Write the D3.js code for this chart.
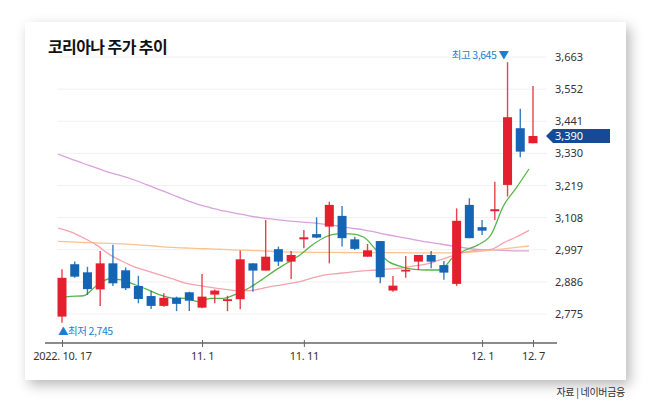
<!doctype html>
<html>
  <head>
    <meta charset="utf-8">
    <title>코리아나 주가 추이</title>
    <script src="https://cdn.jsdelivr.net/npm/d3@7"></script>
    <style>
      html, body { margin:0; padding:0; background:#fff; overflow:hidden }
      #card { position:absolute; left:25px; top:22px; width:601px; height:358px; background:#fff;
              box-shadow: 4px 5px 12px rgba(0,0,0,0.28); }
      svg { position:absolute; top:0; left:0; font-family:"Noto Sans CJK KR", "Noto Sans", sans-serif }
    </style>
  </head>
  <body>
    <div id="card"></div>
    <div id="chart"></div>
    <script>
      // trading days, 2022.10.17 ~ 12.7
      var dates = ["10.17","10.18","10.19","10.20","10.21","10.24","10.25","10.26","10.27","10.28","10.31",
                   "11.1","11.2","11.3","11.4","11.7","11.8","11.9","11.10","11.11",
                   "11.14","11.15","11.16","11.17","11.18","11.21","11.22","11.23","11.24","11.25",
                   "11.28","11.29","11.30","12.1","12.2","12.5","12.6","12.7"];

      var open  = [2766,2947,2919,2860,2950,2926,2872,2837,2803,2831,2850,2797,2842,2821,2826,2950,2925,2999,2956,
                   3033,3051,3077,3114,3033,2973,3027,2856,2924,2956,2979,2944,2879,3152,3075,3130,3221,3417,3365];
      var high  = [2930,2956,2938,2993,3014,2936,2907,2855,2847,2835,2852,2913,2860,2838,2994,2950,3100,3008,2993,
                   3065,3109,3163,3148,3042,3017,3027,2906,2975,2979,2993,2958,3140,3175,3100,3232,3645,3484,3563];
      var low   = [2745,2900,2841,2803,2872,2858,2812,2792,2800,2785,2785,2795,2812,2785,2791,2852,2925,2941,2896,
                   3002,3037,2950,3008,2996,2973,2881,2852,2900,2927,2933,2893,2872,3037,3048,3100,3181,3317,3365];
      var close = [2900,2904,2861,2950,2881,2864,2827,2803,2831,2810,2821,2835,2856,2826,2964,2925,2973,2956,2979,
                   3040,3039,3152,3037,3000,2995,2902,2873,2928,2979,2956,2918,3097,3037,3063,3137,3455,3336,3390];

      // moving averages
      var ma5   = [2832,2836,2838,2872,2896,2893,2877,2860,2841,2830,2829,2818,2829,2829,2844,2865,2893,2924,2951,
                   2979,3014,3041,3052,3052,3041,2996,2955,2938,2929,2927,2927,2969,2996,3014,3048,3149,3211,3276];
      var ma20  = [3072,3059,3038,3014,2982,2958,2938,2924,2910,2896,2882,2874,2867,2861,2856,2856,2863,2872,2879,
                   2887,2900,2910,2915,2920,2924,2927,2931,2934,2941,2948,2962,2976,2989,2996,2998,3021,3041,3064];
      var ma60  = [3026,3024,3022,3021,3019,3017,3015,3012,3008,3005,3003,3001,3000,2998,2996,2995,2993,2991,2989,
                   2989,2988,2988,2988,2987,2987,2987,2987,2987,2986,2986,2986,2986,2988,2991,2995,3000,3005,3010];
      var ma120 = [3327,3311,3295,3280,3264,3252,3238,3221,3204,3187,3169,3154,3142,3131,3123,3114,3107,3102,3097,
                   3093,3090,3085,3079,3072,3066,3057,3048,3040,3031,3024,3017,3010,3003,2998,2996,2995,2993,2993];

      var yTicks = [2775,2886,2997,3108,3219,3330,3441,3552,3663];
      var xTicks = ["10.17","11.1","11.11","12.1","12.7"];
      var xTickLabels = ["2022. 10. 17","11. 1","11. 11","12. 1","12. 7"];

      var RED = "#e5202e", BLUE = "#1565b5";

      var svg = d3.select("#chart").append("svg")
        .attr("width", 650).attr("height", 404);

      var x = d3.scalePoint().domain(dates).range([62, 533]);
      var y = d3.scaleLinear().domain([2775, 3663]).range([314, 57]);

      // title
      svg.append("text").attr("x", 48).attr("y", 53)
        .attr("font-size", 16).attr("font-weight", 700).attr("fill", "#111")
        .attr("letter-spacing", -0.6)
        .text("코리아나 주가 추이");

      // grid
      svg.append("g").selectAll("line").data(yTicks).join("line")
        .attr("x1", 57).attr("x2", 547)
        .attr("y1", d => y(d)).attr("y2", d => y(d))
        .attr("stroke", "#f1f1f1").attr("stroke-width", 1);

      // y axis labels (right)
      var yAxis = d3.axisRight(y).tickValues(yTicks).tickSize(0).tickPadding(0)
        .tickFormat(d3.format(","));
      svg.append("g").attr("transform", "translate(555,0)").call(yAxis)
        .call(g => g.select(".domain").remove())
        .selectAll("text").attr("font-size", 11).attr("fill", "#333")
        .attr("font-family", "'Noto Sans', sans-serif");

      // x axis
      var xAxis = d3.axisBottom(x).tickValues(xTicks).tickSize(4).tickPadding(5)
        .tickFormat((d, i) => xTickLabels[i]);
      var gx = svg.append("g").attr("transform", "translate(0,343)").call(xAxis);
      gx.select(".domain").attr("d", "M45,0H557").attr("stroke", "#666").attr("stroke-width", 1.5);
      gx.selectAll(".tick line").attr("y1", -3).attr("y2", 4).attr("stroke", "#666");
      gx.selectAll("text").attr("font-size", 11).attr("fill", "#333")
        .attr("font-family", "'Noto Sans', sans-serif").attr("letter-spacing", -0.3);

      // moving average lines
      var lines = [[ma120, "#d9a2dc"], [ma60, "#f9c38f"], [ma20, "#f4a3ae"], [ma5, "#55b548"]];
      lines.forEach(function(l) {
        var line = d3.line().x((d, i) => x(dates[i]) - 4).y(d => y(d)).curve(d3.curveMonotoneX);
        svg.append("path").attr("d", line(l[0]))
          .attr("fill", "none").attr("stroke", l[1]).attr("stroke-width", 1.3);
      });

      // candles
      var candles = dates.map((d, i) => ({d: d, o: open[i], h: high[i], l: low[i], c: close[i]}));
      var bw = 9;
      var g = svg.append("g").selectAll("g").data(candles).join("g")
        .attr("fill", d => d.c >= d.o ? RED : BLUE)
        .attr("stroke", d => d.c >= d.o ? RED : BLUE);
      g.append("line")
        .attr("x1", d => x(d.d)).attr("x2", d => x(d.d))
        .attr("y1", d => y(d.h)).attr("y2", d => y(d.l))
        .attr("stroke-width", 1.4).attr("stroke-opacity", 0.85);
      g.append("rect")
        .attr("x", d => x(d.d) - bw / 2).attr("width", bw)
        .attr("y", d => y(Math.max(d.o, d.c)))
        .attr("height", d => Math.max(1.8, Math.abs(y(d.o) - y(d.c))))
        .attr("stroke", "none");

      // high / low annotations
      var hiIdx = high.indexOf(d3.max(high)), loIdx = low.indexOf(d3.min(low));
      svg.append("text").attr("x", x(dates[hiIdx]) + 1).attr("y", y(high[hiIdx]) - 3)
        .attr("text-anchor", "end").attr("font-size", 10.5).attr("fill", "#1a7fd0")
        .attr("letter-spacing", -0.4)
        .text("최고 " + d3.format(",")(high[hiIdx]) + " ▼");
      svg.append("text").attr("x", x(dates[loIdx]) - 4).attr("y", y(low[loIdx]) + 12)
        .attr("font-size", 10.5).attr("fill", "#1a7fd0").attr("letter-spacing", -0.4)
        .text("▲최저 " + d3.format(",")(low[loIdx]));

      // current price tag
      var last = close[close.length - 1], ty = y(last);
      svg.append("path")
        .attr("d", "M546," + ty + "L553," + (ty - 7) + "H610V" + (ty + 7) + "H553Z")
        .attr("fill", "#174a96");
      svg.append("text").attr("x", 555).attr("y", ty + 4)
        .attr("font-size", 11).attr("fill", "#fff").attr("font-family", "'Noto Sans', sans-serif")
        .text(d3.format(",")(last));

      // source
      svg.append("text").attr("x", 625).attr("y", 396).attr("text-anchor", "end")
        .attr("font-size", 10).attr("fill", "#333").attr("letter-spacing", -0.3)
        .text("자료 | 네이버금융");
    </script>
  </body>
</html>
